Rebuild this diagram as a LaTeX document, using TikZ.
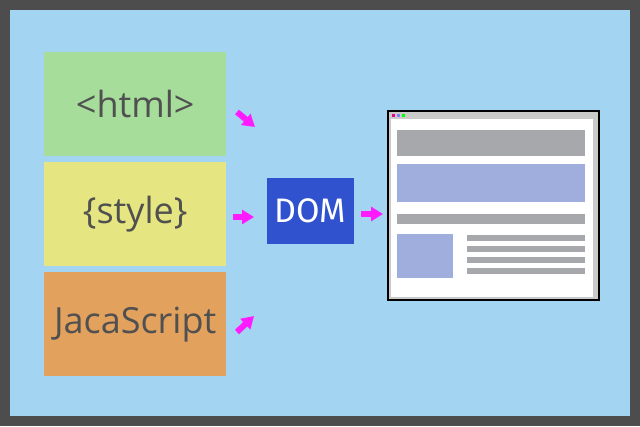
\documentclass[tikz,border=0pt]{standalone}
\usepackage{fontspec}
\setmainfont{Open Sans}
\newfontfamily\domfont{Fira Sans}
\usetikzlibrary{arrows.meta}

\definecolor{edgegray}{HTML}{4D4D4D}
\definecolor{skyblue}{HTML}{A3D5F3}
\definecolor{htmlgreen}{HTML}{A6DD9B}
\definecolor{styleyellow}{HTML}{E5E582}
\definecolor{jsorange}{HTML}{E2A25E}
\definecolor{txtgray}{HTML}{505050}
\definecolor{domblue}{HTML}{3052CF}
\definecolor{arrpink}{HTML}{FF1AFF}
\definecolor{bargray}{HTML}{A7A8AB}
\definecolor{barblue}{HTML}{A0AEDE}
\definecolor{winframe}{HTML}{CACACA}

\begin{document}
\begin{tikzpicture}[x=1pt,y=-1pt,
  src/.style={anchor=north west, minimum width=182pt, minimum height=104pt, inner sep=0pt,
    font=\fontsize{36}{38}\selectfont, text=txtgray},
  arr/.style={-{Triangle[length=12pt,width=14pt]}, line width=6pt, draw=arrpink},
  bar/.style={fill=bargray},
  dot/.style={minimum size=3pt, inner sep=0pt},
]
% background
\fill[edgegray] (0,0) rectangle (640,426);
\fill[skyblue] (10,10) rectangle (630,416);
\useasboundingbox (0,0) rectangle (640,426);

% sources
\node[src, fill=htmlgreen]   (html)  at (44,52)  {<html>};
\node[src, fill=styleyellow] (style) at (44,162) {\{style\}};
\node[src, fill=jsorange]    (js)    at (44,272) {JacaScript};

% DOM
\node[fill=domblue, text=white, minimum width=87pt, minimum height=66pt, inner sep=0pt,
  font=\domfont\fontsize{34}{36}\selectfont] (dom) at (310.5,211) {DOM};

% browser window
\node[draw=black, line width=1.5pt, fill=winframe, anchor=north west,
  minimum width=211pt, minimum height=189pt, inner sep=0pt] (page) at (387,110) {};
\fill[white] (391,119) rectangle (593,297);
\node[dot, fill=magenta] (d1) at (393.5,115.5) {};
\node[dot, fill=blue!50] (d2) at (398.5,115.5) {};
\node[dot, fill=green]   (d3) at (403.5,115.5) {};
\fill[bar] (397,130) rectangle (585,156);
\fill[barblue] (397,164) rectangle (585,202);
\fill[bar] (397,214) rectangle (585,224);
\fill[barblue] (397,234) rectangle (453,278);
\foreach \y in {235,246,257,268}
  \fill[bar] (467,\y) rectangle (585,\y+6);

% arrows
\coordinate (a1s) at (237,112); \coordinate (a1e) at (255,127);
\coordinate (a2s) at (233,217); \coordinate (a2e) at (254,217);
\coordinate (a3s) at (237,332); \coordinate (a3e) at (254,316);
\coordinate (a4s) at (361,214); \coordinate (a4e) at (383,214);
\foreach \a/\b in {a1s/a1e,a2s/a2e,a3s/a3e,a4s/a4e}
  \draw[arr] (\a) -- (\b);
\end{tikzpicture}
\end{document}
